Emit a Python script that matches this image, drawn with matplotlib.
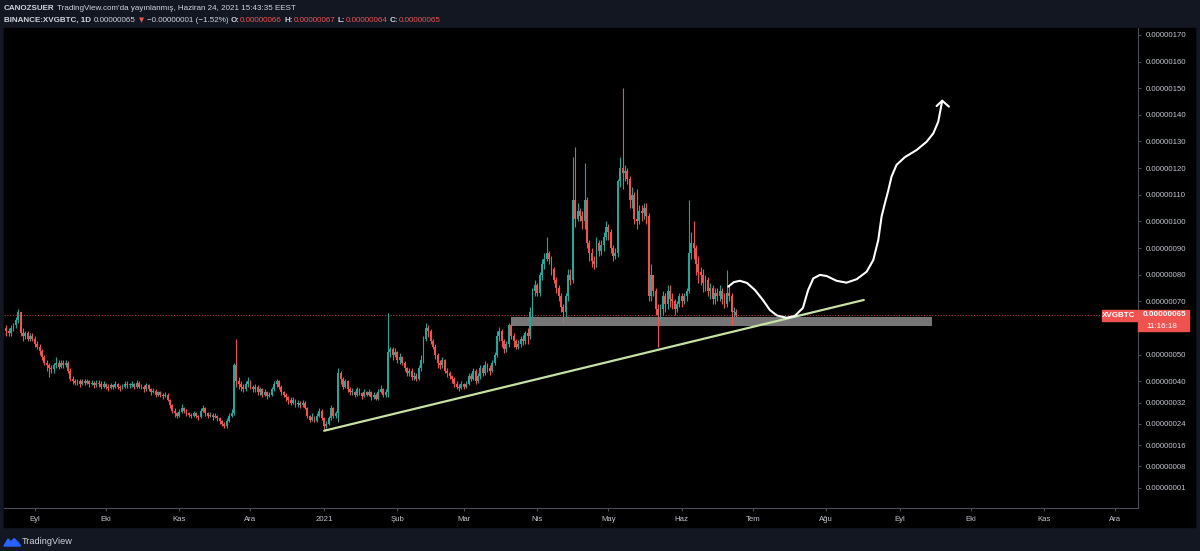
import numpy as np
import pandas as pd
import matplotlib
matplotlib.use('Agg')
import matplotlib.pyplot as plt
from matplotlib.patches import Rectangle, Polygon

W, H = 1200, 551
NAVY = '#131722'
UP, DOWN = '#26a69a', '#ef5350'
AXC = '#c3c6ce'
plt.rcParams['font.family'] = ['Liberation Sans', 'DejaVu Sans']

# daily candles XVG/BTC in satoshi (1e-8 BTC), first day 2020-08-20
start = '2020-08-20'
first_open = 60
close = [
    59, 58, 60, 61, 63, 66, 58, 57, 58, 56,
    57, 56, 54, 53, 51.5, 49, 47, 46, 45, 44.5,
    46, 47, 45.5, 47, 46, 47, 44, 41, 40, 39.5,
    40, 39, 40, 39.5, 40, 39, 39.5, 38.5, 39.5, 39,
    38, 39, 38, 37.5, 38.5, 38, 39, 38, 37.5, 38,
    39, 38.5, 38.5, 39, 38, 39.5, 38, 38, 37, 38.5,
    37, 36, 36.5, 35, 36, 35, 34.5, 35, 33, 31,
    29, 28, 27, 28.5, 30, 29, 28, 27.5, 27, 28,
    27, 26.5, 29, 30, 28, 27, 27.5, 26.5, 27, 26,
    25, 24, 23, 25, 27, 28, 46, 40, 39, 38,
    37, 39, 40, 38, 37, 38, 36, 37, 35, 36,
    34.5, 35, 37, 39, 40, 38, 36, 35, 34, 33,
    32, 33, 31.5, 32, 31, 32, 30, 27, 25.5, 26.5,
    25, 27, 29, 26, 23, 24, 26, 30, 27, 28,
    43, 41, 38, 40, 37, 36, 36, 35, 37, 35.5,
    34.5, 36, 35, 36, 34, 35, 33.5, 36, 37, 35,
    36, 51, 52, 50, 51, 48, 49, 47, 45, 43,
    44, 41.5, 42, 41, 45, 48, 56, 60, 59, 55,
    53, 50, 47, 46, 48, 44, 43, 42, 41, 39,
    38, 37.5, 39, 38, 39, 42, 41, 44, 40, 42,
    45, 43, 46, 45, 44, 47, 50, 57, 59, 55,
    52, 54, 61, 57, 55, 53, 54, 56, 55, 58,
    57, 66, 74, 76, 73, 80, 84, 86, 88, 86,
    82, 78, 75, 72, 68, 66, 72, 80, 78, 108,
    101, 104, 102, 100, 108, 92, 88, 85, 84, 92,
    89, 91, 94, 98, 96, 90, 87, 88, 115, 120,
    118, 119, 116, 108, 110, 101, 100, 104, 103, 105,
    102, 72, 80, 74, 67, 65, 67, 72, 69, 74,
    71, 70, 67, 69, 72, 70, 72, 74, 88, 92,
    90, 84, 81, 80, 77, 78, 74, 75, 71, 73,
    72, 74, 71, 69, 73, 72, 66, 66, 65,
]
high = [
    61, 60, 61, 62, 64, 67, 66, 60, 59, 59,
    58, 58, 57, 55, 54, 52, 50, 48, 47, 46,
    47, 49, 48, 48, 48, 48, 47.5, 45, 42, 41,
    41, 41, 41, 41, 41, 40.5, 40.5, 40, 40.5, 40.5,
    40, 40, 39.5, 39, 39.5, 39, 40, 39.5, 38.5, 39,
    40, 40, 39.5, 40, 39.5, 40.5, 40, 39, 38.5, 39.5,
    39, 37.5, 37.5, 37, 36.5, 36.5, 35.5, 36, 35.5, 33.5,
    31.5, 30, 28.5, 29.5, 31.5, 30.5, 29.5, 28.5, 28, 29,
    28.5, 27.5, 30, 31, 30.5, 28.5, 28.5, 28, 28, 27.5,
    26.5, 25.5, 24.5, 26, 28, 29.5, 47, 55.8, 41.5, 40,
    39, 40, 41.5, 40.5, 38.5, 39, 38.5, 38, 37.5, 37,
    36.5, 36, 38, 40, 41, 40.5, 38.5, 36.5, 35.5, 34.5,
    34, 34, 33.5, 33, 32.5, 33, 32.5, 30.5, 27.5, 28,
    27, 28, 30, 29.5, 26.5, 25, 27, 31, 30.5, 29,
    45, 44, 41.5, 41, 40.5, 38, 37.5, 36.5, 38, 37.5,
    36, 37, 36.5, 37, 36.5, 36, 35.5, 37, 38.5, 37.5,
    37, 65.7, 53, 53, 52.5, 51.5, 50.5, 49.5, 47.5, 45.5,
    45, 45, 43.5, 43, 46, 50, 57, 62, 61, 59.5,
    56, 54, 50.5, 48, 49, 48.5, 45, 44, 42.5, 41.5,
    40, 39, 40, 39.5, 40, 43, 43, 45, 44.5, 43,
    46, 46, 47.5, 47, 46, 48, 51, 59, 60.5, 59.5,
    56, 55, 62, 62, 58, 56, 55.5, 57, 57.5, 59,
    60, 68, 75, 78, 77, 81, 86, 88, 94, 89,
    87, 83, 79, 76, 73, 69, 73, 82, 82, 124,
    128, 107, 105, 104, 122, 109, 93, 90, 87, 94,
    93, 93, 96, 100, 99, 97, 91, 90, 116, 124,
    150, 121, 120, 117, 113, 111, 112, 106, 106, 107,
    107, 103, 84, 80, 75, 69, 69, 74, 73, 76,
    76, 73, 71, 70, 73, 73, 73, 75, 108, 96,
    100, 91, 87, 83, 82, 80, 79, 77, 76, 75,
    75, 76, 75, 73, 81.7, 76, 73, 68, 67,
]
low = [
    57, 57, 57, 59, 60, 62, 57, 55, 56, 55,
    55, 55, 53, 52, 50, 48, 46, 44, 41.6, 43,
    43, 45, 44.5, 45, 45, 45.5, 43, 40, 39, 38.5,
    38.5, 38, 38.5, 38.5, 39, 38, 38.5, 37.5, 38, 38,
    37, 37.5, 37, 36.5, 37, 37, 37.5, 37, 36.5, 37,
    37.5, 37.5, 37.5, 38, 37, 37.5, 37.5, 37, 36, 36.5,
    36.5, 35, 35.5, 34, 34.5, 34, 33.5, 34, 32.5, 30,
    28, 26.5, 26, 26.5, 28, 28, 27, 26.5, 26, 26.5,
    26, 25.5, 26, 28.5, 27, 26, 26.5, 25.5, 26, 25,
    24, 23, 22.4, 22.5, 24.5, 26.5, 27.5, 38, 37, 36.5,
    36, 36.5, 38, 37, 36, 36, 35, 35, 34, 34.5,
    33.5, 34, 34.5, 36.5, 38, 37, 35, 34, 32.5, 31.5,
    31, 31.5, 30.5, 30.5, 30, 30.5, 29.5, 26, 24.6, 25,
    24.5, 24.5, 26.5, 25.5, 21.5, 22.5, 23.5, 25.5, 26, 26,
    24.6, 39, 37, 37.5, 36, 35, 35, 34, 34.5, 35,
    33.5, 34, 34.5, 34.5, 33, 33.5, 33, 33, 35.5, 34,
    34, 34, 49, 48, 49, 47, 46.5, 46, 44, 42,
    42, 40.5, 40.4, 40, 40.5, 44, 47, 55, 56.5, 54,
    52, 48.5, 45, 44.5, 45, 43, 41.6, 41, 39.5, 38,
    37, 36.5, 37, 37, 37.5, 38.5, 40, 40.5, 39, 39.5,
    41, 42, 42.5, 43.5, 42.5, 43.5, 46, 49, 55, 53,
    50.5, 51, 53, 56, 53, 52, 52, 53, 53.5, 54,
    54, 56, 64, 72, 72, 72, 78, 82, 85, 84,
    80, 77, 73, 70, 66, 62, 64, 70, 76, 77,
    98, 100, 100, 97, 97, 90, 85, 83, 82, 83,
    87, 87.5, 89, 93, 93, 88, 85, 86, 86.5, 113,
    112, 115, 114, 105, 105, 99, 97, 99, 100, 101,
    99, 70, 70, 72, 65, 52.8, 63, 65, 66, 67,
    68, 67, 65, 66, 68, 68, 69, 70, 73, 86,
    86, 80, 77, 76, 73.5, 74, 72, 71, 69, 69,
    70, 70, 69, 67.5, 68, 70, 61, 64, 64,
]

last_price = 65

# drawings (x = days since 2021-01-01, y = satoshi)
box_days = [78.9, 256.4]
box_prices = [60.8, 64.2]
trend_days = [0.1, 227.8]
trend_prices = [21.4, 70.5]
path_days = [170.6, 173.0, 175.5, 178.5, 181.9, 185.2, 188.2, 191.1, 195.2, 198.7,
             202.1, 204.3, 206.5, 209.3, 212.1, 216.3, 220.5, 224.8, 229.0, 231.8,
             233.9, 235.3, 236.7, 238.1, 239.5, 241.6, 245.1, 250.1, 254.3, 257.1,
             259.2, 260.9]
path_prices = [75.5, 77.2, 77.7, 76.9, 74.2, 70.5, 66.7, 64.7, 63.8, 64.5,
               67.5, 74.2, 78.6, 79.9, 79.5, 77.7, 77.0, 78.3, 81.1, 85.5,
               93.0, 101.8, 106.8, 111.5, 116.8, 121.2, 124.1, 126.8, 129.9, 133.0,
               137.4, 145.3]
head_days = [258.5, 260.9, 263.7]
head_prices = [143.3, 145.3, 143.1]

month_starts = pd.date_range('2020-09-01', '2021-12-01', freq='MS')
month_labels = ['Eyl', 'Eki', 'Kas', 'Ara', '2021', 'Şub', 'Mar', 'Nis', 'May',
                'Haz', 'Tem', 'Ağu', 'Eyl', 'Eki', 'Kas', 'Ara']
# the 0.00000060 level sits under the price badge, so it is not labelled
price_ticks = [170, 160, 150, 140, 130, 120, 110, 100, 90, 80, 70, 50, 40, 32, 24, 16, 8, 0]
price_labels = ['0.00000170', '0.00000160', '0.00000150', '0.00000140', '0.00000130',
                '0.00000120', '0.00000110', '0.00000100', '0.00000090', '0.00000080',
                '0.00000070', '0.00000050', '0.00000040', '0.00000032',
                '0.00000024', '0.00000016', '0.00000008', '0.00000001']

base = pd.Timestamp('2021-01-01')
dates = pd.date_range(start, periods=len(close), freq='D')
x = np.asarray((dates - base).days, dtype=float)
c = np.array(close, dtype=float)
o = np.concatenate([[first_open], c[:-1]])
hi = np.array(high, dtype=float)
lo = np.array(low, dtype=float)
cols = np.where(c >= o, UP, DOWN)


def fx(px):
    return px / W


def fy(py):
    return 1 - py / H


fig = plt.figure(figsize=(W / 100, H / 100), dpi=100, facecolor=NAVY)
fig.add_artist(Rectangle((fx(4), fy(527)), (1195 - 4) / W, (527 - 28) / H,
                         transform=fig.transFigure, color='black', zorder=-1))

ax = fig.add_axes([fx(4), fy(508), (1138 - 4) / W, (508 - 28) / H])
ax.set_facecolor('black')
ax.set_xlim(-135.0, 343.5)
ax.set_ylim(-7.6, 172.6)

# candles
ax.vlines(x, lo, hi, colors=cols, lw=0.8, zorder=3)
ax.bar(x, np.maximum(np.abs(c - o), 0.3), bottom=np.minimum(o, c), width=0.8,
       color=cols, linewidth=0, zorder=3)

# support box, trend line, projection
ax.add_patch(Rectangle((box_days[0], box_prices[0]), box_days[1] - box_days[0],
                       box_prices[1] - box_prices[0], color='#767676', lw=0, zorder=2))
ax.plot(trend_days, trend_prices, color='#c5e1a5', lw=1.6, zorder=4, solid_capstyle='round')
ax.plot(path_days, path_prices, color='white', lw=1.5, zorder=5, solid_capstyle='round')
ax.plot(head_days, head_prices, color='white', lw=1.5, zorder=5, solid_capstyle='round')
ax.axhline(last_price, color='#b03a3a', lw=0.8, ls=(0, (1, 1.5)), zorder=1)

# axes styling
for s in ['top', 'left']:
    ax.spines[s].set_visible(False)
for s in ['right', 'bottom']:
    ax.spines[s].set_color('#4a4d55')
    ax.spines[s].set_linewidth(0.8)
ax.yaxis.tick_right()
ax.set_yticks(price_ticks)
ax.set_yticklabels(price_labels)
ax.set_xticks(np.asarray((month_starts - base).days, dtype=float))
ax.set_xticklabels(month_labels)
ax.tick_params(axis='both', colors='#4a4d55', labelcolor=AXC, labelsize=5.6,
               length=2.5, width=0.8, pad=3)

# price badges
fig.add_artist(Rectangle((fx(1138), fy(331)), 51 / W, 21.5 / H, transform=fig.transFigure,
                         color=DOWN, zorder=5))
fig.text(fx(1143), fy(315), '0.00000065', color='white', fontsize=5.8, va='center',
         ha='left', zorder=6, fontweight='bold')
fig.text(fx(1146), fy(326), '11:16:18', color='white', fontsize=5.8, va='center',
         ha='left', zorder=6)
fig.add_artist(Rectangle((fx(1101.5), fy(320.5)), 35 / W, 10.5 / H, transform=fig.transFigure,
                         color=DOWN, zorder=5))
fig.text(fx(1119), fy(315.3), 'XVGBTC', color='white', fontsize=5.8, va='center',
         ha='center', zorder=6, fontweight='bold')

# header
HF = ['Liberation Sans Narrow', 'Liberation Sans', 'DejaVu Sans']
HS = 5.8
t = fig.text(fx(4), fy(11.5), 'CANOZSUER', color='#d1d4dc', fontsize=HS,
             fontweight='bold', family=HF, va='bottom')
ax.annotate("TradingView.com'da yayınlanmış, Haziran 24, 2021 15:43:35 EEST",
            xy=(1, 0), xycoords=t, xytext=(1.9, 0), textcoords='offset points',
            color='#d1d4dc', fontsize=HS, family=HF, va='bottom', annotation_clip=False)

parts = [('BINANCE:XVGBTC, 1D', '#d1d4dc', 'bold', 0),
         ('0.00000065', '#d1d4dc', 'normal', 2.1),
         ('▼', DOWN, 'normal', 2.1),
         ('−0.00000001 (−1.52%)', '#d1d4dc', 'normal', 2.1),
         ('O:', '#d1d4dc', 'bold', 1.9),
         ('0.00000066', DOWN, 'normal', 0.2),
         ('H:', '#d1d4dc', 'bold', 1.9),
         ('0.00000067', DOWN, 'normal', 0.2),
         ('L:', '#d1d4dc', 'bold', 1.9),
         ('0.00000064', DOWN, 'normal', 0.2),
         ('C:', '#d1d4dc', 'bold', 1.9),
         ('0.00000065', DOWN, 'normal', 0.2)]
prev = None
for s, col, wt, gap in parts:
    fam = ['DejaVu Sans'] if s == '▼' else HF
    fs = 4.8 if s == '▼' else HS
    if prev is None:
        prev = fig.text(fx(4), fy(23.5), s, color=col, fontsize=fs, fontweight=wt,
                        family=fam, va='bottom')
    else:
        prev = ax.annotate(s, xy=(1, 0), xycoords=prev, xytext=(gap, 0),
                           textcoords='offset points', color=col, fontsize=fs,
                           fontweight=wt, family=fam, va='bottom', annotation_clip=False)

# footer logo
logo = [(4, 546), (8, 539), (11, 542), (14, 538.5), (18.5, 543), (20.5, 546)]
fig.add_artist(Polygon([(fx(a), fy(b)) for a, b in logo], closed=True,
                       transform=fig.transFigure, color='#2962ff', zorder=2))
fig.text(fx(22), fy(542), 'TradingView', color='#d1d4dc', fontsize=6.6, va='center',
         family=HF)

fig.savefig('out.png', dpi=100, facecolor=NAVY)
